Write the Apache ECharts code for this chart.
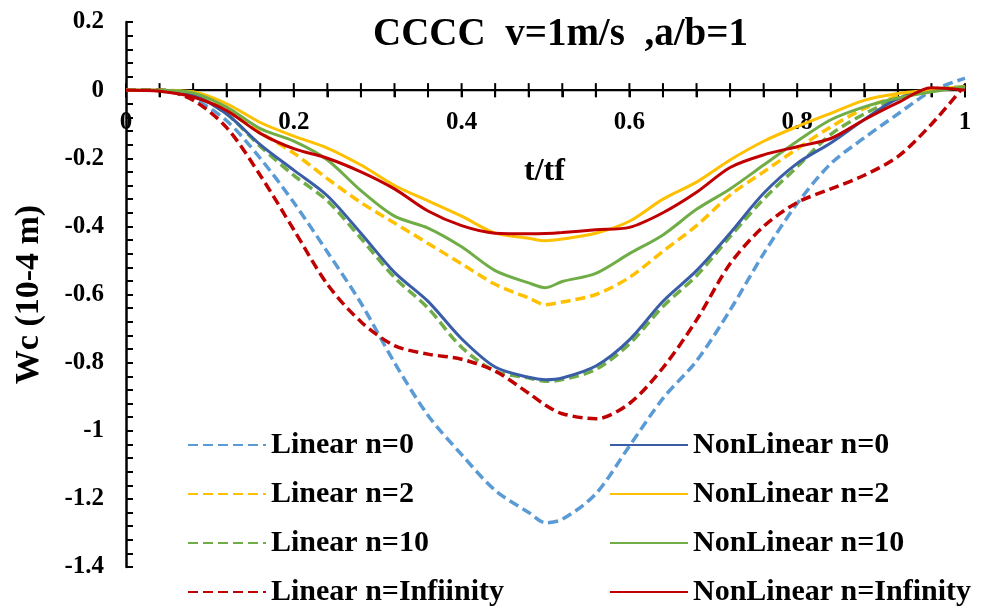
<!DOCTYPE html>
<html>
<head>
<meta charset="utf-8">
<script src="https://cdn.jsdelivr.net/npm/echarts@6/dist/echarts.min.js"></script>
<style>
html,body{margin:0;padding:0;background:#fff;}
#chart{width:987px;height:611px;}
</style>
</head>
<body>
<div id="chart"></div>
<script>
// ---- data ----
const tValues = [0,0.04,0.08,0.12,0.16,0.2,0.24,0.28,0.32,0.36,0.4,0.44,0.48,0.5,0.52,0.56,0.6,0.64,0.68,0.72,0.76,0.8,0.84,0.88,0.92,0.96,1];

const linearN0   = [0,0,-0.025,-0.09,-0.2,-0.33,-0.475,-0.625,-0.8,-0.955,-1.07,-1.175,-1.24,-1.27,-1.26,-1.185,-1.045,-0.905,-0.795,-0.646,-0.48,-0.333,-0.216,-0.14,-0.07,-0.003,0.035];
const linearN2   = [0,0,-0.01,-0.06,-0.125,-0.185,-0.26,-0.33,-0.39,-0.45,-0.51,-0.57,-0.61,-0.63,-0.622,-0.6,-0.55,-0.473,-0.398,-0.308,-0.24,-0.172,-0.108,-0.054,-0.018,0,0.01];
const linearN10  = [0,0,-0.015,-0.07,-0.165,-0.25,-0.325,-0.435,-0.55,-0.64,-0.755,-0.825,-0.845,-0.855,-0.85,-0.82,-0.745,-0.635,-0.545,-0.43,-0.32,-0.225,-0.13,-0.07,-0.025,0,0.01];
const linearInf  = [0,0,-0.03,-0.11,-0.25,-0.41,-0.57,-0.68,-0.75,-0.775,-0.79,-0.825,-0.89,-0.925,-0.95,-0.965,-0.92,-0.815,-0.675,-0.51,-0.4,-0.33,-0.29,-0.25,-0.195,-0.1,0.015];
const nonlinN0   = [0,0,-0.015,-0.07,-0.16,-0.235,-0.31,-0.42,-0.535,-0.62,-0.73,-0.813,-0.843,-0.85,-0.845,-0.81,-0.733,-0.62,-0.53,-0.42,-0.303,-0.215,-0.155,-0.086,-0.025,0,0.005];
const nonlinN2   = [0,0,-0.005,-0.04,-0.095,-0.135,-0.17,-0.22,-0.28,-0.325,-0.37,-0.42,-0.435,-0.442,-0.437,-0.42,-0.385,-0.32,-0.27,-0.205,-0.15,-0.107,-0.068,-0.03,-0.01,0,0.01];
const nonlinN10  = [0,0,-0.008,-0.05,-0.113,-0.15,-0.205,-0.295,-0.37,-0.405,-0.46,-0.53,-0.566,-0.58,-0.562,-0.538,-0.48,-0.425,-0.35,-0.29,-0.22,-0.15,-0.087,-0.049,-0.023,-0.005,0.01];
const nonlinInf  = [0,-0.003,-0.02,-0.06,-0.127,-0.172,-0.2,-0.24,-0.29,-0.355,-0.398,-0.42,-0.422,-0.421,-0.418,-0.41,-0.403,-0.36,-0.3,-0.227,-0.19,-0.166,-0.142,-0.087,-0.037,0.007,0];

// tick positions of the horizontal (t/tf) axis, which lies on Wc = 0
const xTickValues = [0,0.04,0.08,0.12,0.16,0.2,0.24,0.28,0.32,0.36,0.4,0.44,0.48,0.52,0.56,0.6,0.64,0.68,0.72,0.76,0.8,0.84,0.88,0.92,0.96,1];
const xMin = 0, xMax = 1, axisZero = 0;

const linearNames = ['Linear n=0','Linear n=2','Linear n=10','Linear n=Infiinity'];
const nonlinNames = ['NonLinear n=0','NonLinear n=2','NonLinear n=10','NonLinear n=Infinity'];
const titleText = 'CCCC  v=1m/s  ,a/b=1';
const xName = 't/tf';
const yName = 'Wc (10-4 m)';

// ---- styles ----
const FONT = '"Liberation Serif","Times New Roman",serif';
const linearColors = ['#5B9BD5','#FFC000','#70AD47','#C00000'];
const nonlinColors = ['#3A5DA8','#FFC000','#70AD47','#C00000'];
const linearData = [linearN0, linearN2, linearN10, linearInf];
const nonlinData = [nonlinN0, nonlinN2, nonlinN10, nonlinInf];

// plot geometry (pixels)
const G = {left:126, right:22, top:22, bottom:44, H:611, labelTop:110};

function pairs(vals){ return tValues.map((t,i)=>[t, vals[i]]); }
function fmt(v){
  const k = v/0.2;
  if (Math.abs(k - Math.round(k)) > 1e-6) return '';
  return String(Math.round(v*10)/10);
}

const series = [];
// horizontal axis line on the zero level (drawn first so the curves sit on top)
series.push({
  name:'_axis', type:'line', data:[[xMin, axisZero],[xMax, axisZero]], symbol:'none',
  silent:true, legendHoverLink:false,
  lineStyle:{color:'#000', width:2, type:'solid'}, itemStyle:{color:'#000'}
});
// crossing tick marks of the horizontal axis
series.push({
  name:'_ticks', type:'scatter', data:xTickValues.map(t=>[t, axisZero]),
  symbol:'rect', symbolSize:[2,14], silent:true,
  itemStyle:{color:'#000', opacity:1}
});
linearData.forEach((d,i)=>series.push({
  name: linearNames[i], type:'line', data: pairs(d), symbol:'none', smooth:0.3,
  lineStyle:{color:linearColors[i], width:3.5, type:[10,5]},
  itemStyle:{color:linearColors[i]}
}));
nonlinData.forEach((d,i)=>series.push({
  name: nonlinNames[i], type:'line', data: pairs(d), symbol:'none', smooth:0.3,
  lineStyle:{color:nonlinColors[i], width:3, type:'solid'},
  itemStyle:{color:nonlinColors[i]}
}));

const rowCenters = [445, 494, 543, 592];
const legends = [];
function addLegend(name, left, cy){
  legends.push({
    data:[name], left:left, top:cy-15, orient:'horizontal', padding:0,
    itemWidth:78, itemHeight:14, itemGap:0, selectedMode:false,
    itemStyle:{opacity:0},
    textStyle:{fontFamily:FONT, fontWeight:'bold', fontSize:30, color:'#000', lineHeight:30}
  });
}
linearNames.forEach((n,i)=>addLegend(n, 187, rowCenters[i]));
nonlinNames.forEach((n,i)=>addLegend(n, 609, rowCenters[i]));

const plotBottom = G.H - G.bottom;
const option = {
  animation:false,
  title:[{
    text:titleText, left:368, top:10,
    textStyle:{fontFamily:FONT, fontWeight:'bold', fontSize:39, color:'#000'}
  },{
    text:xName, left:524, top:156, padding:0,
    textStyle:{fontFamily:FONT, fontWeight:'bold', fontSize:32, color:'#000'}
  }],
  legend:legends,
  grid:[{left:G.left, right:G.right, top:G.top, bottom:G.bottom, outerBoundsMode:'none'}],
  xAxis:[{
    type:'value', min:xMin, max:xMax, interval:0.04,
    axisLine:{show:true, onZero:true, lineStyle:{color:'#000', width:2}},
    axisTick:{show:true, length:7, lineStyle:{color:'#000', width:2}},
    axisLabel:{formatter:fmt, margin:G.labelTop - plotBottom, fontFamily:FONT, fontWeight:'bold', fontSize:25, color:'#000'},
    splitLine:{show:false}
  }],
  yAxis:[{
    type:'value', min:-1.4, max:0.2, interval:0.04,
    name:yName, nameLocation:'middle', nameGap:80, nameRotate:90,
    nameTextStyle:{fontFamily:FONT, fontWeight:'bold', fontSize:34, color:'#000'},
    axisLine:{show:true, lineStyle:{color:'#000', width:2.5}},
    axisTick:{show:true, inside:true, length:7, lineStyle:{color:'#000', width:2}},
    axisLabel:{formatter:fmt, margin:22, fontFamily:FONT, fontWeight:'bold', fontSize:25, color:'#000'},
    splitLine:{show:false}
  }],
  series: series
};

const chart = echarts.init(document.getElementById('chart'));
chart.setOption(option);
</script>
</body>
</html>
